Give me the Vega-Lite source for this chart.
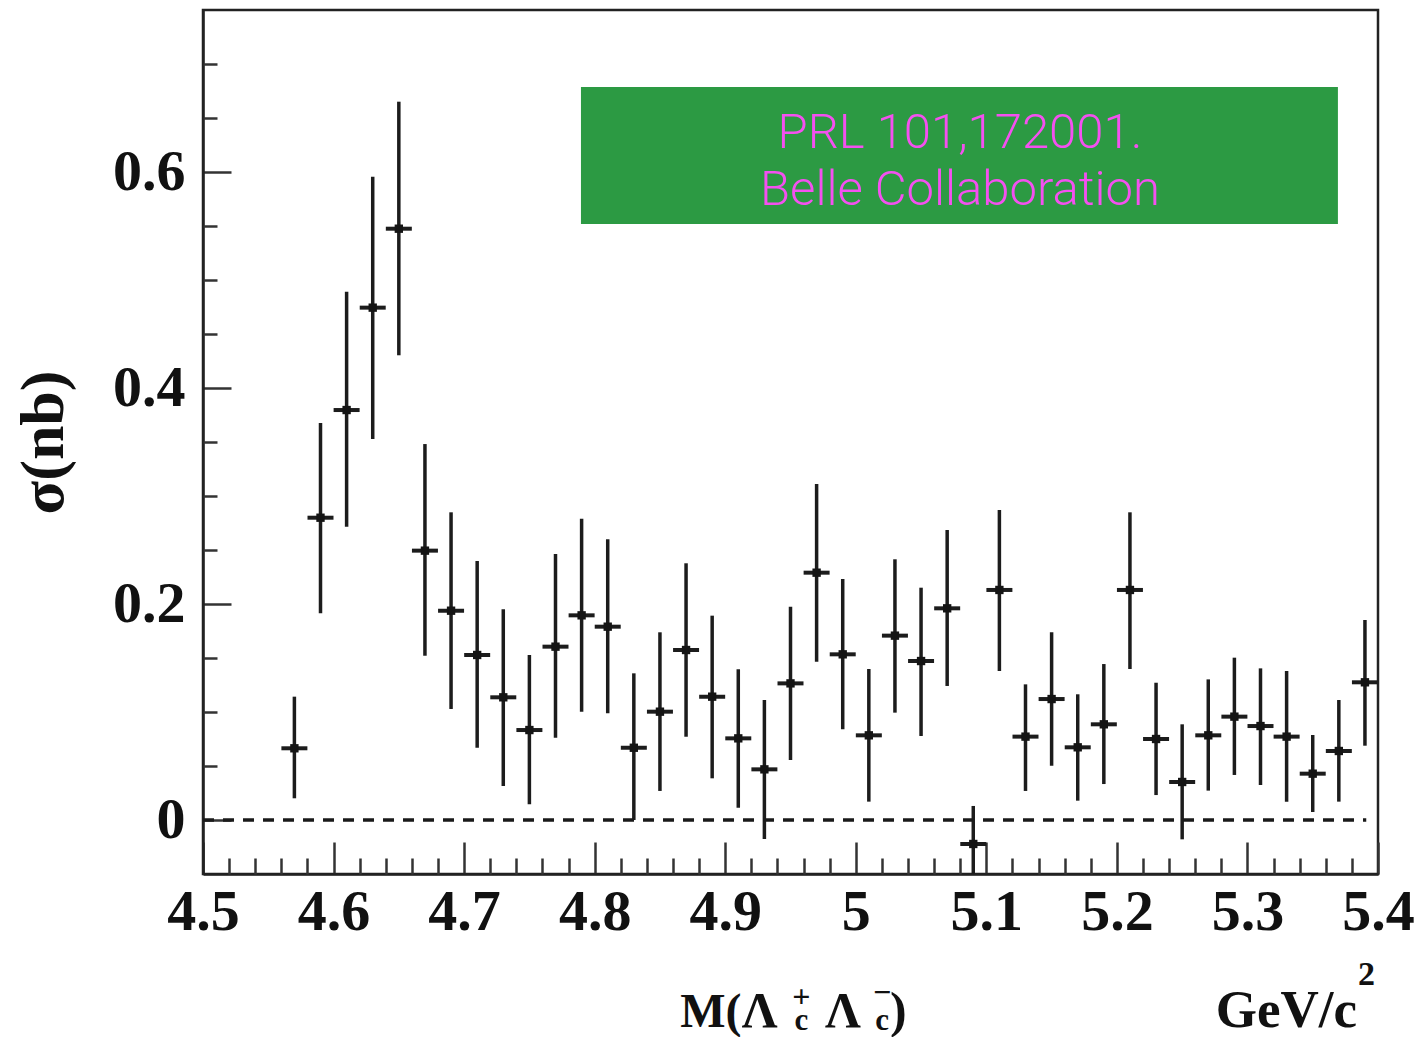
{
  "$schema": "https://vega.github.io/schema/vega-lite/v6.json",
  "autosize": {"type": "none"},
  "width": 1175,
  "height": 864,
  "padding": {"left": 203, "top": 10, "right": 41, "bottom": 163},
  "background": "white",
  "config": {
    "view": {"stroke": "#222222", "strokeWidth": 2.5},
    "axis": {
      "domainColor": "#222222",
      "domainWidth": 2.5,
      "tickColor": "#333333",
      "tickWidth": 2.5,
      "grid": false,
      "labelFont": "Liberation Serif",
      "labelFontWeight": "bold",
      "labelFontSize": 58,
      "labelColor": "#111111",
      "labelOverlap": false,
      "labelFlush": false,
      "titleFont": "Liberation Serif",
      "titleFontWeight": "bold",
      "titleColor": "#111111"
    },
    "text": {"font": "Liberation Serif", "fontWeight": "bold", "color": "#111111"}
  },
  "resolve": {"axis": {"x": "independent", "y": "independent"}},
  "datasets": {
    "points": [
      {"m": 4.57, "sigma": 0.0664, "lo": 0.0201, "hi": 0.1142},
      {"m": 4.59, "sigma": 0.2799, "lo": 0.1914, "hi": 0.3676},
      {"m": 4.61, "sigma": 0.3796, "lo": 0.2716, "hi": 0.4892},
      {"m": 4.63, "sigma": 0.4744, "lo": 0.3528, "hi": 0.5956},
      {"m": 4.65, "sigma": 0.5475, "lo": 0.4303, "hi": 0.6651},
      {"m": 4.67, "sigma": 0.2494, "lo": 0.1521, "hi": 0.3481},
      {"m": 4.69, "sigma": 0.1938, "lo": 0.1028, "hi": 0.2849},
      {"m": 4.71, "sigma": 0.1528, "lo": 0.0669, "hi": 0.2398},
      {"m": 4.73, "sigma": 0.1136, "lo": 0.0315, "hi": 0.1951},
      {"m": 4.75, "sigma": 0.0833, "lo": 0.0145, "hi": 0.1528},
      {"m": 4.77, "sigma": 0.1605, "lo": 0.0762, "hi": 0.2463},
      {"m": 4.79, "sigma": 0.1895, "lo": 0.1003, "hi": 0.2790},
      {"m": 4.81, "sigma": 0.1790, "lo": 0.0988, "hi": 0.2599},
      {"m": 4.83, "sigma": 0.0669, "lo": 0.0000, "hi": 0.1358},
      {"m": 4.85, "sigma": 0.1003, "lo": 0.0269, "hi": 0.1738},
      {"m": 4.87, "sigma": 0.1574, "lo": 0.0771, "hi": 0.2377},
      {"m": 4.89, "sigma": 0.1142, "lo": 0.0386, "hi": 0.1892},
      {"m": 4.91, "sigma": 0.0756, "lo": 0.0114, "hi": 0.1395},
      {"m": 4.93, "sigma": 0.0469, "lo": -0.0176, "hi": 0.1111},
      {"m": 4.95, "sigma": 0.1265, "lo": 0.0556, "hi": 0.1975},
      {"m": 4.97, "sigma": 0.2290, "lo": 0.1466, "hi": 0.3111},
      {"m": 4.99, "sigma": 0.1534, "lo": 0.0840, "hi": 0.2231},
      {"m": 5.01, "sigma": 0.0784, "lo": 0.0170, "hi": 0.1398},
      {"m": 5.03, "sigma": 0.1707, "lo": 0.0994, "hi": 0.2414},
      {"m": 5.05, "sigma": 0.1472, "lo": 0.0778, "hi": 0.2151},
      {"m": 5.07, "sigma": 0.1960, "lo": 0.1241, "hi": 0.2685},
      {"m": 5.09, "sigma": -0.0222, "lo": -0.0700, "hi": 0.0130},
      {"m": 5.11, "sigma": 0.2130, "lo": 0.1380, "hi": 0.2870},
      {"m": 5.13, "sigma": 0.0772, "lo": 0.0269, "hi": 0.1256},
      {"m": 5.15, "sigma": 0.1120, "lo": 0.0503, "hi": 0.1738},
      {"m": 5.17, "sigma": 0.0673, "lo": 0.0179, "hi": 0.1164},
      {"m": 5.19, "sigma": 0.0886, "lo": 0.0333, "hi": 0.1444},
      {"m": 5.21, "sigma": 0.2130, "lo": 0.1398, "hi": 0.2849},
      {"m": 5.23, "sigma": 0.0750, "lo": 0.0231, "hi": 0.1271},
      {"m": 5.25, "sigma": 0.0352, "lo": -0.0179, "hi": 0.0886},
      {"m": 5.27, "sigma": 0.0784, "lo": 0.0272, "hi": 0.1302},
      {"m": 5.29, "sigma": 0.0957, "lo": 0.0417, "hi": 0.1503},
      {"m": 5.31, "sigma": 0.0870, "lo": 0.0324, "hi": 0.1404},
      {"m": 5.33, "sigma": 0.0772, "lo": 0.0170, "hi": 0.1380},
      {"m": 5.35, "sigma": 0.0429, "lo": 0.0074, "hi": 0.0787},
      {"m": 5.37, "sigma": 0.0639, "lo": 0.0170, "hi": 0.1111},
      {"m": 5.39, "sigma": 0.1275, "lo": 0.0688, "hi": 0.1852}
    ],
    "one": [{}]
  },
  "layer": [
    {
      "data": {"name": "points"},
      "mark": {"type": "rule", "strokeWidth": 3.5, "color": "#1c1c1c", "clip": true},
      "encoding": {
        "x": {
          "field": "m", "type": "quantitative",
          "scale": {"domain": [4.5, 5.4], "nice": false, "zero": false},
          "axis": {
            "orient": "bottom",
            "title": null,
            "values": [4.5,4.6,4.7,4.8,4.9,5,5.1,5.2,5.3,5.4],
            "format": ".1~f",
            "tickSize": -32,
            "labelPadding": 41,
            "labelFlush": false,
            "labelOverlap": false
          }
        },
        "y": {
          "field": "lo", "type": "quantitative",
          "scale": {"domain": [-0.05, 0.75], "nice": false, "zero": false},
          "axis": {
            "orient": "left",
            "title": "σ(nb)",
            "titleFontSize": 62,
            "titleAngle": 270,
            "titleAlign": "center",
            "titleBaseline": "middle",
            "titleX": -160,
            "titleY": 432,
            "values": [0,0.2,0.4,0.6],
            "format": ".1~f",
            "tickSize": -28,
            "labelPadding": 46,
            "labelOverlap": false,
            "labelFlush": false
          }
        },
        "y2": {"field": "hi"}
      }
    },
    {
      "data": {"name": "points"},
      "mark": {"type": "tick", "orient": "horizontal", "size": 26, "thickness": 4, "color": "#1c1c1c", "opacity": 1},
      "encoding": {
        "x": {
          "field": "m", "type": "quantitative",
          "axis": {
            "orient": "bottom",
            "title": null,
            "values": [4.52,4.54,4.56,4.58,4.62,4.64,4.66,4.68,4.72,4.74,4.76,4.78,4.82,4.84,4.86,4.88,4.92,4.94,4.96,4.98,5.02,5.04,5.06,5.08,5.12,5.14,5.16,5.18,5.22,5.24,5.26,5.28,5.32,5.34,5.36,5.38],
            "labels": false,
            "domain": false,
            "tickSize": -16
          }
        },
        "y": {
          "field": "sigma", "type": "quantitative",
          "axis": {
            "orient": "left",
            "title": null,
            "values": [0.05,0.1,0.15,0.25,0.3,0.35,0.45,0.5,0.55,0.65,0.7],
            "labels": false,
            "domain": false,
            "tickSize": -14
          }
        }
      }
    },
    {
      "data": {"name": "one"},
      "mark": {"type": "rule", "strokeDash": [11, 9], "strokeWidth": 3.5, "color": "#1a1a1a"},
      "encoding": {
        "x": {"datum": 4.5, "type": "quantitative", "axis": null},
        "x2": {"datum": 5.391},
        "y": {"datum": 0, "type": "quantitative", "axis": null}
      }
    },
    {
      "data": {"name": "points"},
      "mark": {"type": "point", "shape": "square", "filled": true, "size": 70, "color": "#141414", "opacity": 1},
      "encoding": {
        "x": {"field": "m", "type": "quantitative", "axis": null},
        "y": {"field": "sigma", "type": "quantitative", "axis": null}
      }
    },
    {
      "data": {"name": "one"},
      "mark": {"type": "rect", "color": "#2c9a43"},
      "encoding": {
        "x": {"datum": 4.7895, "type": "quantitative", "axis": null},
        "x2": {"datum": 5.3693},
        "y": {"datum": 0.6787, "type": "quantitative", "axis": null},
        "y2": {"datum": 0.5519}
      }
    },
    {
      "data": {"name": "one"},
      "mark": {"type": "text", "font": "Roboto", "fontWeight": 300, "fontSize": 49, "color": "#f450f0", "align": "center", "baseline": "alphabetic"},
      "encoding": {
        "x": {"datum": 5.0798, "type": "quantitative", "axis": null},
        "y": {"datum": 0.6222, "type": "quantitative", "axis": null},
        "text": {"value": "PRL 101,172001."}
      }
    },
    {
      "data": {"name": "one"},
      "mark": {"type": "text", "font": "Roboto", "fontWeight": 300, "fontSize": 49, "color": "#f450f0", "align": "center", "baseline": "alphabetic"},
      "encoding": {
        "x": {"datum": 5.0798, "type": "quantitative", "axis": null},
        "y": {"datum": 0.5694, "type": "quantitative", "axis": null},
        "text": {"value": "Belle Collaboration"}
      }
    },
    {
      "data": {"name": "one"},
      "mark": {"type": "text", "fontSize": 48, "align": "left", "baseline": "alphabetic"},
      "encoding": {
        "x": {"datum": 4.8655, "type": "quantitative", "axis": null},
        "y": {"datum": -0.1917, "type": "quantitative", "axis": null},
        "text": {"value": "M("}
      }
    },
    {
      "data": {"name": "one"},
      "mark": {"type": "text", "fontSize": 50, "align": "center", "baseline": "alphabetic"},
      "encoding": {
        "x": {"datum": 4.9263, "type": "quantitative", "axis": null},
        "y": {"datum": -0.1917, "type": "quantitative", "axis": null},
        "text": {"value": "Λ"}
      }
    },
    {
      "data": {"name": "one"},
      "mark": {"type": "text", "fontSize": 32, "align": "center", "baseline": "middle"},
      "encoding": {
        "x": {"datum": 4.9583, "type": "quantitative", "axis": null},
        "y": {"datum": -0.1639, "type": "quantitative", "axis": null},
        "text": {"value": "+"}
      }
    },
    {
      "data": {"name": "one"},
      "mark": {"type": "text", "fontSize": 31, "align": "center", "baseline": "alphabetic"},
      "encoding": {
        "x": {"datum": 4.9583, "type": "quantitative", "axis": null},
        "y": {"datum": -0.1944, "type": "quantitative", "axis": null},
        "text": {"value": "c"}
      }
    },
    {
      "data": {"name": "one"},
      "mark": {"type": "text", "fontSize": 50, "align": "center", "baseline": "alphabetic"},
      "encoding": {
        "x": {"datum": 4.9901, "type": "quantitative", "axis": null},
        "y": {"datum": -0.1917, "type": "quantitative", "axis": null},
        "text": {"value": "Λ"}
      }
    },
    {
      "data": {"name": "one"},
      "mark": {"type": "text", "fontSize": 32, "align": "center", "baseline": "middle"},
      "encoding": {
        "x": {"datum": 5.0201, "type": "quantitative", "axis": null},
        "y": {"datum": -0.16, "type": "quantitative", "axis": null},
        "text": {"value": "−"}
      }
    },
    {
      "data": {"name": "one"},
      "mark": {"type": "text", "fontSize": 31, "align": "center", "baseline": "alphabetic"},
      "encoding": {
        "x": {"datum": 5.0201, "type": "quantitative", "axis": null},
        "y": {"datum": -0.1944, "type": "quantitative", "axis": null},
        "text": {"value": "c"}
      }
    },
    {
      "data": {"name": "one"},
      "mark": {"type": "text", "fontSize": 50, "align": "left", "baseline": "alphabetic"},
      "encoding": {
        "x": {"datum": 5.0262, "type": "quantitative", "axis": null},
        "y": {"datum": -0.1917, "type": "quantitative", "axis": null},
        "text": {"value": ")"}
      }
    },
    {
      "data": {"name": "one"},
      "mark": {"type": "text", "fontSize": 53, "align": "right", "baseline": "alphabetic"},
      "encoding": {
        "x": {"datum": 5.3839, "type": "quantitative", "axis": null},
        "y": {"datum": -0.1917, "type": "quantitative", "axis": null},
        "text": {"value": "GeV/c"}
      }
    },
    {
      "data": {"name": "one"},
      "mark": {"type": "text", "fontSize": 34, "align": "left", "baseline": "alphabetic"},
      "encoding": {
        "x": {"datum": 5.3847, "type": "quantitative", "axis": null},
        "y": {"datum": -0.1528, "type": "quantitative", "axis": null},
        "text": {"value": "2"}
      }
    }
  ]
}
